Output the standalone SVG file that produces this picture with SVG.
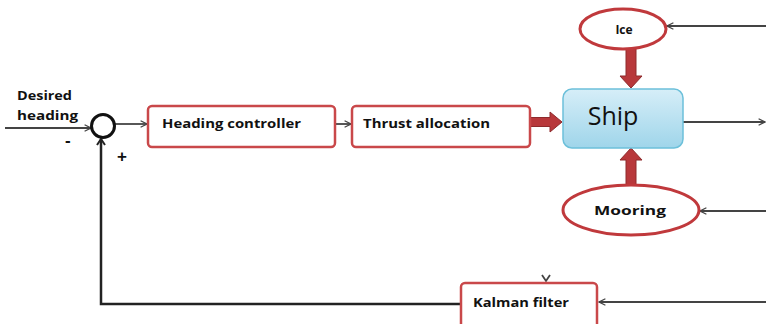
<svg xmlns="http://www.w3.org/2000/svg" width="766" height="324" viewBox="0 0 766 324">
<defs>
<linearGradient id="shipGrad" x1="0" y1="0" x2="0" y2="1">
<stop offset="0" stop-color="#d6eef8"/>
<stop offset="1" stop-color="#9fd5ea"/>
</linearGradient>
<marker id="chev" viewBox="0 0 10 10" refX="9" refY="5" markerWidth="8" markerHeight="8" markerUnits="userSpaceOnUse" orient="auto">
<path d="M1,1 L9,5 L1,9" fill="none" stroke="#444" stroke-width="1.6"/>
</marker>
</defs>
<style>
.box{fill:#fff;stroke:#c9484a;stroke-width:2.5}
.ell{fill:#fff;stroke:#c0393c;stroke-width:3}
.lbl{font-family:"Open Sans","Liberation Sans",sans-serif;font-weight:bold;font-size:13px;fill:#111}
.sign{font-family:"Liberation Sans",sans-serif;font-weight:bold;font-size:17px;fill:#111}
.ln{fill:none;stroke:#444;stroke-width:1.8}
.fb{fill:none;stroke:#222;stroke-width:2.5}
.big{fill:#b8383b;stroke:#8e2a2c;stroke-width:1}
</style>
<g id="connectors">
<line class="ln" x1="5" y1="128" x2="91" y2="128" marker-end="url(#chev)"/>
<line class="ln" x1="115" y1="124" x2="147" y2="124" marker-end="url(#chev)"/>
<line class="ln" x1="335" y1="124" x2="351" y2="124" marker-end="url(#chev)"/>
<line class="ln" x1="683" y1="122" x2="765" y2="122" marker-end="url(#chev)"/>
<line class="ln" x1="766" y1="26" x2="667" y2="26" marker-end="url(#chev)"/>
<line class="ln" x1="766" y1="211" x2="700" y2="211" marker-end="url(#chev)"/>
<line class="ln" x1="766" y1="302" x2="599" y2="302" marker-end="url(#chev)"/>
<path class="fb" d="M461,304 L101,304 L101,139"/>
<path d="M97,145 L101,139 L105,145" fill="none" stroke="#222" stroke-width="2"/>
<path d="M542,275 L546,281 L550,275" fill="none" stroke="#444" stroke-width="1.8"/>
<path class="big" d="M530,117.5 L550,117.5 L550,112 L562,122 L550,132 L550,126.5 L530,126.5 Z"/>
<path class="big" d="M626,49 L636,49 L636,76 L642,76 L631,88 L620,76 L626,76 Z"/>
<path class="big" d="M626,185 L636,185 L636,160 L642,160 L631,148 L620,160 L626,160 Z"/>
</g>
<g id="sum">
<circle cx="103" cy="126" r="11.5" fill="#fff" stroke="#111" stroke-width="3"/>
</g>
<g id="desired-label">
<text class="lbl" x="17" y="100" textLength="55" lengthAdjust="spacingAndGlyphs">Desired</text>
<text class="lbl" x="17" y="120" textLength="61" lengthAdjust="spacingAndGlyphs">heading</text>
<text class="sign" x="65" y="146">-</text>
<text class="sign" x="117" y="162">+</text>
</g>
<g id="heading-controller">
<rect class="box" x="148" y="106" width="187" height="41" rx="4"/>
<text class="lbl" x="162" y="128" textLength="139" lengthAdjust="spacingAndGlyphs">Heading controller</text>
</g>
<g id="thrust-allocation">
<rect class="box" x="352" y="106" width="178" height="41" rx="4"/>
<text class="lbl" x="363" y="128" textLength="127" lengthAdjust="spacingAndGlyphs">Thrust allocation</text>
</g>
<g id="ship">
<rect x="563" y="89" width="120" height="59" rx="9" fill="url(#shipGrad)" stroke="#6cc0da" stroke-width="1.5"/>
<text x="613" y="125" text-anchor="middle" font-family="'Open Sans','Liberation Sans',sans-serif" font-size="25" fill="#111">Ship</text>
</g>
<g id="ice">
<ellipse class="ell" cx="623" cy="29" rx="43" ry="20"/>
<text class="lbl" x="624" y="34" text-anchor="middle" style="font-size:12px">Ice</text>
</g>
<g id="mooring">
<ellipse class="ell" cx="631" cy="210" rx="68" ry="25"/>
<text class="lbl" x="630" y="215" text-anchor="middle" textLength="72" lengthAdjust="spacingAndGlyphs">Mooring</text>
</g>
<g id="kalman-filter">
<rect class="box" x="461" y="283" width="136" height="45" rx="4"/>
<text class="lbl" x="473" y="307" textLength="96" lengthAdjust="spacingAndGlyphs">Kalman filter</text>
</g>
</svg>
